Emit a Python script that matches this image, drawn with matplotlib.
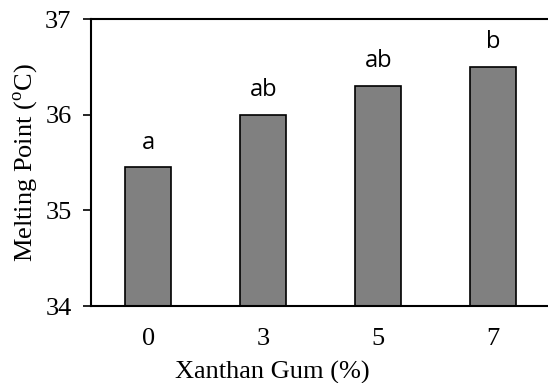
import matplotlib
matplotlib.use("Agg")
import matplotlib.pyplot as plt

# data
categories = ["0", "3", "5", "7"]
melting_point = [35.45, 36.0, 36.3, 36.5]
letters = ["a", "ab", "ab", "b"]

fig = plt.figure(figsize=(5.48, 3.83), dpi=100)
# right spine sits just past the figure edge, as in the reference
ax = fig.add_axes([0.166, 0.201, 0.839, 0.749])

x = range(len(categories))
ax.bar(x, [v - 34 for v in melting_point], bottom=34, width=0.4,
       color="#808080", edgecolor="black", linewidth=1.2)

for xi, v, lab in zip(x, melting_point, letters):
    ax.text(xi, v + 0.26, lab, ha="center", va="center",
            fontsize=17, family="Open Sans")

ax.set_xlim(-0.5, 3.5)
ax.set_ylim(34, 37)
ax.set_yticks([34, 35, 36, 37])
ax.set_xticks(list(x))
ax.set_xticklabels(categories)

serif = "Liberation Serif"
for lbl in ax.get_xticklabels() + ax.get_yticklabels():
    lbl.set_family(serif)
    lbl.set_fontsize(19)

ax.tick_params(axis="x", length=0, pad=16)
ax.tick_params(axis="y", direction="out", length=6, width=1.2, pad=8)
ax.set_xlabel("Xanthan Gum (%)", family=serif, fontsize=19)
ax.xaxis.set_label_coords(0.394, -0.19)
ax.set_ylabel(r"Melting Point ($^\mathregular{o}$C)", family=serif,
              fontsize=19, labelpad=4)
for s in ax.spines.values():
    s.set_linewidth(1.5)

fig.savefig("out.png", dpi=100)
